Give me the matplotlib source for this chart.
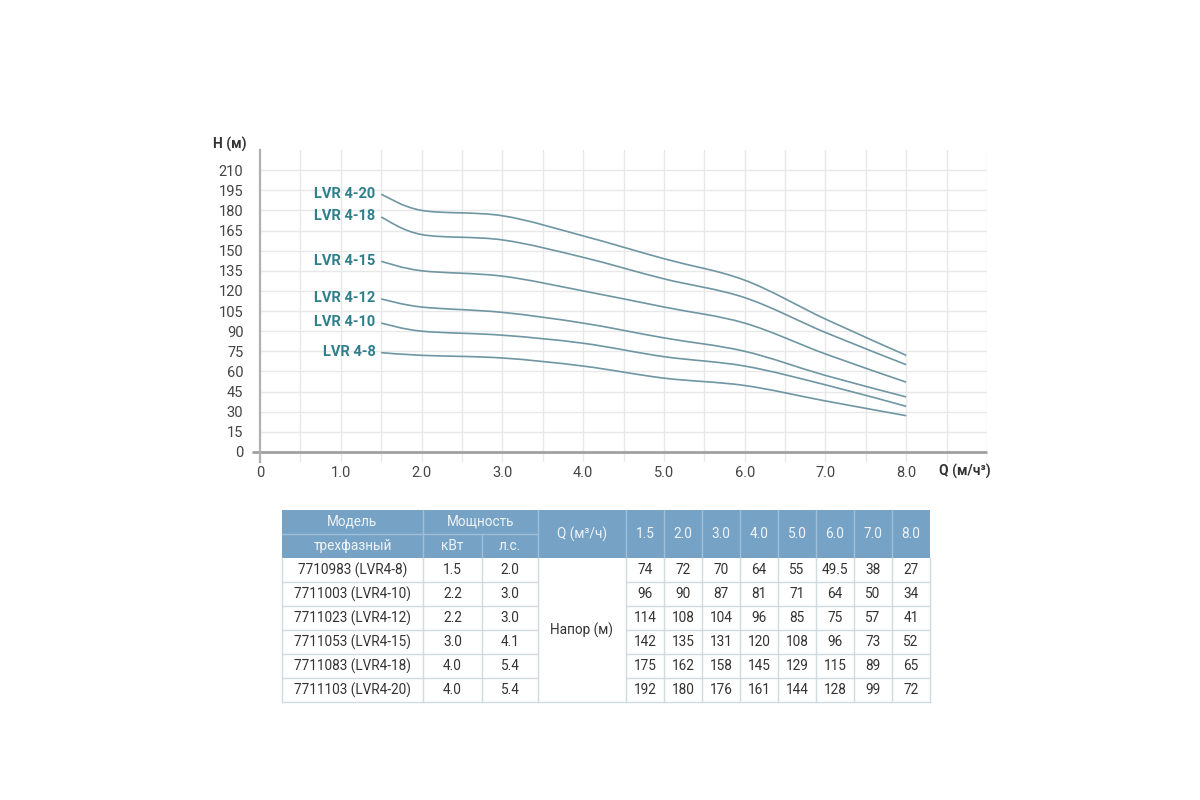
import matplotlib
matplotlib.use("Agg")
import matplotlib.pyplot as plt
from matplotlib.path import Path
from matplotlib.patches import PathPatch, Rectangle
import numpy as np

plt.rcParams['font.family'] = ['Roboto', 'DejaVu Sans']

# ---------------- data ----------------
q_values = [1.5, 2.0, 3.0, 4.0, 5.0, 6.0, 7.0, 8.0]
q_labels = ["1.5", "2.0", "3.0", "4.0", "5.0", "6.0", "7.0", "8.0"]
models = ["7710983 (LVR4-8)", "7711003 (LVR4-10)", "7711023 (LVR4-12)",
          "7711053 (LVR4-15)", "7711083 (LVR4-18)", "7711103 (LVR4-20)"]
curve_names = ["LVR 4-8", "LVR 4-10", "LVR 4-12", "LVR 4-15", "LVR 4-18", "LVR 4-20"]
power_kw = ["1.5", "2.2", "2.2", "3.0", "4.0", "4.0"]
power_hp = ["2.0", "3.0", "3.0", "4.1", "5.4", "5.4"]
head_lvr4_8 = [74, 72, 70, 64, 55, 49.5, 38, 27]
head_lvr4_10 = [96, 90, 87, 81, 71, 64, 50, 34]
head_lvr4_12 = [114, 108, 104, 96, 85, 75, 57, 41]
head_lvr4_15 = [142, 135, 131, 120, 108, 96, 73, 52]
head_lvr4_18 = [175, 162, 158, 145, 129, 115, 89, 65]
head_lvr4_20 = [192, 180, 176, 161, 144, 128, 99, 72]
heads = [head_lvr4_8, head_lvr4_10, head_lvr4_12, head_lvr4_15, head_lvr4_18, head_lvr4_20]
y_ticks = list(range(0, 211, 15))
x_ticks = [0, 1, 2, 3, 4, 5, 6, 7, 8]
x_ticklabels = ["0", "1.0", "2.0", "3.0", "4.0", "5.0", "6.0", "7.0", "8.0"]

# ---------------- figure ----------------
W, H = 1200, 800
fig = plt.figure(figsize=(12, 8), dpi=100)
fig.patch.set_facecolor("white")

def fx(px):
    return px / W

def fy(py):
    return 1 - py / H

# main chart axes: x 0..9 spans px 260..987, y -7.5..225 spans px 462..150
ax = fig.add_axes([fx(260), fy(462), fx(987) - fx(260), fy(150) - fy(462)])
ax.set_xlim(0, 9)
ax.set_ylim(-7.5, 225)
for s in ["top", "right", "bottom"]:
    ax.spines[s].set_visible(False)
ax.spines["left"].set_color("#b0b0b0")
ax.spines["left"].set_linewidth(1.6)

grid_c = "#e8e8e8"
for yv in y_ticks[1:]:
    ax.axhline(yv, color=grid_c, lw=1.0, zorder=0)
for xv in np.arange(0.5, 9.01, 0.5):
    ax.axvline(xv, color=grid_c, lw=1.0, zorder=0)
ax.plot([-0.1, 9.0], [0, 0], color="#a0a0a0", lw=2.0, clip_on=False, zorder=1,
        solid_capstyle="butt")

ax.set_yticks(y_ticks)
ax.set_yticklabels([str(v) for v in y_ticks])
ax.set_xticks(x_ticks)
ax.set_xticklabels(x_ticklabels)
ax.tick_params(axis="both", length=0, labelsize=10.5, labelcolor="#444444")
ax.tick_params(axis="y", pad=12)
ax.tick_params(axis="x", pad=3)

ax.text(-0.58, 229, "H (м)", fontsize=10, fontweight="bold", color="#333333",
        ha="left", va="center", clip_on=False)
ax.text(8.4, -14.5, "Q (м/ч³)", fontsize=10, fontweight="bold", color="#333333",
        ha="left", va="center", clip_on=False)

curve_c = "#6f96a2"
label_c = "#2f7f8b"


def smooth_path(xs, ys):
    pts = np.column_stack([xs, ys]).astype(float)
    n = len(pts)
    verts = [pts[0]]
    codes = [Path.MOVETO]
    for i in range(n - 1):
        p0 = pts[i - 1] if i > 0 else pts[i]
        p1 = pts[i]
        p2 = pts[i + 1]
        p3 = pts[i + 2] if i + 2 < n else pts[i + 1]
        c1 = p1 + (p2 - p0) / 6.0
        c2 = p2 - (p3 - p1) / 6.0
        verts += [c1, c2, p2]
        codes += [Path.CURVE4] * 3
    return Path(verts, codes)


for name, h in zip(curve_names, heads):
    patch = PathPatch(smooth_path(q_values, h), facecolor="none", edgecolor=curve_c,
                      lw=1.2, zorder=3)
    ax.add_patch(patch)
    ax.text(q_values[0] - 0.07, h[0] + 0.5, name, fontsize=10.5, fontweight="bold",
            color=label_c, ha="right", va="center")

# ---------------- table ----------------
col_edges = [282, 423, 482, 538, 626, 664, 702, 740, 778, 816, 854, 892, 930]
row_edges = [510, 534, 558, 582, 606, 630, 654, 678, 702]

tax = fig.add_axes([0, 0, 1, 1])
tax.set_xlim(0, W)
tax.set_ylim(H, 0)
tax.axis("off")

hdr_c = "#76a2c5"
hdr_line = "#9fbfd8"
hdr_txt = "#eef4f9"
cell_line = "#cfdbe2"
txt_c = "#333333"
tfont = ['Roboto', 'DejaVu Sans']
fs = 9.8

# header background
tax.add_patch(Rectangle((col_edges[0], row_edges[0]), col_edges[-1] - col_edges[0],
                        row_edges[2] - row_edges[0], facecolor=hdr_c, edgecolor="none"))
# header internal lines
tax.plot([col_edges[0], col_edges[3]], [row_edges[1]] * 2, color=hdr_line, lw=1)
for c in col_edges[1:-1]:
    if c == col_edges[2]:
        tax.plot([c, c], [row_edges[1], row_edges[2]], color=hdr_line, lw=1)
    else:
        tax.plot([c, c], [row_edges[0], row_edges[2]], color=hdr_line, lw=1)


def cx(i, j=None):
    j = i + 1 if j is None else j
    return (col_edges[i] + col_edges[j]) / 2


def cy(i, j=None):
    j = i + 1 if j is None else j
    return (row_edges[i] + row_edges[j]) / 2


kw_h = dict(ha="center", va="center", fontsize=fs, color=hdr_txt, family=tfont)
tax.text(cx(0), cy(0), "Модель", **kw_h)
tax.text(cx(0), cy(1), "трехфазный", **kw_h)
tax.text(cx(1, 3), cy(0), "Мощность", **kw_h)
tax.text(cx(1), cy(1), "кВт", **kw_h)
tax.text(cx(2), cy(1), "л.с.", **kw_h)
tax.text(cx(3), cy(0, 2), "Q (м³/ч)", **kw_h)
for k, lab in enumerate(q_labels):
    tax.text(cx(4 + k), cy(0, 2), lab, **kw_h)

# body lines
x0, x1 = col_edges[0], col_edges[-1]
for r in row_edges[3:-1]:
    tax.plot([x0, col_edges[3]], [r, r], color=cell_line, lw=1)
    tax.plot([col_edges[4], x1], [r, r], color=cell_line, lw=1)
tax.plot([x0, x1], [row_edges[-1]] * 2, color=cell_line, lw=1)
for c in col_edges:
    tax.plot([c, c], [row_edges[2], row_edges[-1]], color=cell_line, lw=1)

kw_b = dict(ha="center", va="center", fontsize=fs, color=txt_c, family=tfont)
for r, (m, kw, hp, h) in enumerate(zip(models, power_kw, power_hp, heads)):
    ri = 2 + r
    tax.text(cx(0), cy(ri), m, **kw_b)
    tax.text(cx(1), cy(ri), kw, **kw_b)
    tax.text(cx(2), cy(ri), hp, **kw_b)
    for k, v in enumerate(h):
        s = ("%g" % v)
        tax.text(cx(4 + k), cy(ri), s, **kw_b)
tax.text(cx(3), cy(2, 8), "Напор (м)", **kw_b)

fig.savefig("out.png", dpi=100, facecolor="white")
